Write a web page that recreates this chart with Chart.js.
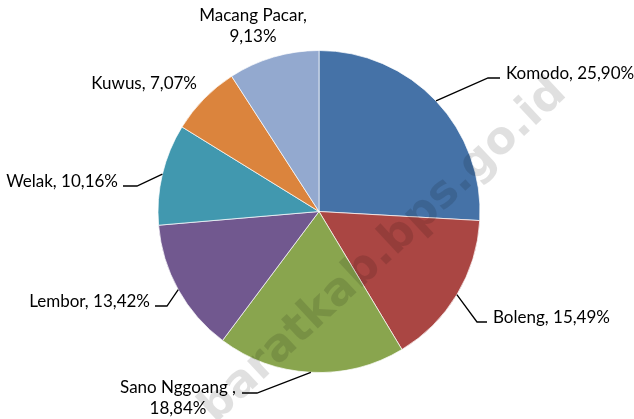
<!DOCTYPE html>
<html>
<head>
<meta charset="utf-8">
<script src="https://cdn.jsdelivr.net/npm/chart.js@4/dist/chart.umd.min.js"></script>
<style>
  html, body { margin: 0; padding: 0; background: #fff; overflow: hidden; }
</style>
</head>
<body>
<canvas id="pie" width="634" height="419"></canvas>
<script>
const categories = ['Komodo', 'Boleng', 'Sano Nggoang ', 'Lembor', 'Welak', 'Kuwus', 'Macang Pacar'];
const shares = [25.90, 15.49, 18.84, 13.42, 10.16, 7.07, 9.13];
const sliceColors = ['#4572A7', '#AA4643', '#89A54E', '#71588F', '#4198AF', '#DB843D', '#93A9CF'];

// where each data label sits (x, baseline y), and its leader line if any
const labelSpots = [
    {x: 506, y: 79,  align: 'left',   lead: [[488, 78], [500, 78]]},
    {x: 493, y: 323, align: 'left',   lead: [[477, 322], [487, 322]]},
    {x: 178, y: 393, align: 'center', wrap: true, lead: [[257, 393], [242, 393]]},
    {x: 150, y: 307, align: 'right',  lead: [[167, 306], [155, 306]]},
    {x: 118, y: 187, align: 'right',  lead: [[137, 186], [123, 186]]},
    {x: 197, y: 89,  align: 'right'},
    {x: 253, y: 21,  align: 'center', wrap: true}
];

const LABEL_FONT = '17px Lato';
const fmt = (v) => v.toFixed(2).replace('.', ',') + '%';

const pieLabels = {
    id: 'pieLabels',
    afterDatasetsDraw(chart) {
        const ctx = chart.ctx;
        const arcs = chart.getDatasetMeta(0).data;
        ctx.save();
        ctx.font = LABEL_FONT;
        ctx.fillStyle = '#000';
        ctx.strokeStyle = '#000';
        ctx.lineWidth = 1.3;
        arcs.forEach((arc, i) => {
            const spot = labelSpots[i];
            const p = arc.getProps(['x', 'y', 'startAngle', 'endAngle', 'outerRadius'], true);
            if (spot.lead) {
                const a = (p.startAngle + p.endAngle) / 2;
                ctx.beginPath();
                ctx.moveTo(p.x + Math.cos(a) * p.outerRadius, p.y + Math.sin(a) * p.outerRadius);
                spot.lead.forEach(pt => ctx.lineTo(pt[0], pt[1]));
                ctx.stroke();
            }
            ctx.textAlign = spot.align;
            ctx.textBaseline = 'alphabetic';
            const name = categories[i] + ',';
            const val = fmt(shares[i]);
            if (spot.wrap) {
                ctx.fillText(name, spot.x, spot.y);
                ctx.fillText(val, spot.x, spot.y + 21);
            } else {
                ctx.fillText(name + ' ' + val, spot.x, spot.y);
            }
        });

        // site watermark over the chart
        ctx.font = 'bold 45px "DejaVu Sans"';
        ctx.fillStyle = 'rgba(0,0,0,0.12)';
        ctx.textAlign = 'left';
        const wm = 'baratkab.bps.go.id';
        const toDot = ctx.measureText('baratkab').width + ctx.measureText('.').width / 2;
        const ang = -43 * Math.PI / 180;
        ctx.translate(389, 262);
        ctx.rotate(ang);
        ctx.fillText(wm, -toDot, 0);
        ctx.restore();
    }
};

new Chart(document.getElementById('pie').getContext('2d'), {
    type: 'pie',
    data: {
        labels: categories,
        datasets: [{
            data: shares,
            backgroundColor: sliceColors,
            borderColor: 'rgba(255,255,255,0.7)',
            borderWidth: 1
        }]
    },
    options: {
        responsive: false,
        animation: false,
        layout: {
            padding: {left: 157.5, right: 153.5, top: 50, bottom: 46}
        },
        plugins: {
            legend: {display: false},
            tooltip: {enabled: false}
        }
    },
    plugins: [pieLabels]
});
</script>
</body>
</html>
